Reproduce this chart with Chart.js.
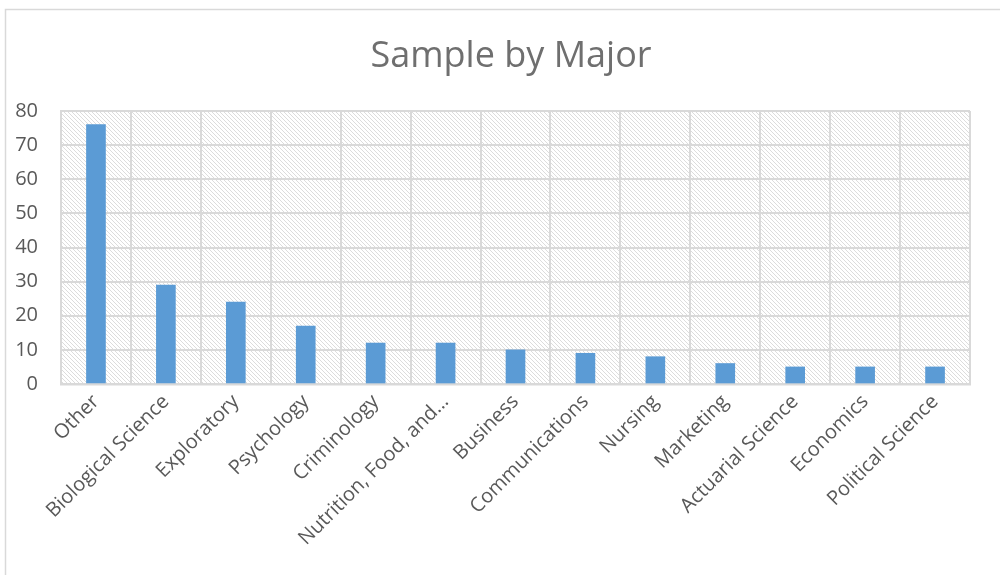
<!DOCTYPE html>
<html>
<head>
<meta charset="utf-8">
<script src="https://cdn.jsdelivr.net/npm/chart.js@4"></script>
<style>
  html, body { margin: 0; padding: 0; background: #fff; }
  #wrap { width: 1000px; height: 575px; }
</style>
</head>
<body>
<div id="wrap"><canvas id="majorChart" width="1000" height="575"></canvas></div>
<script>
  // data
  var chartTitle = "Sample by Major";
  var majors = ["Other", "Biological Science", "Exploratory", "Psychology", "Criminology",
    "Nutrition, Food, and\u2026", "Business", "Communications", "Nursing", "Marketing",
    "Actuarial Science", "Economics", "Political Science"];
  var counts = [76, 29, 24, 17, 12, 12, 10, 9, 8, 6, 5, 5, 5];
  var yTicks = [0, 10, 20, 30, 40, 50, 60, 70, 80];

  var gridColor = "#d9d9d9";
  var textColor = "#595959";
  var fontName = "Open Sans";

  // diagonal hatch behind the bars
  function makeHatch(ctx) {
    var c = document.createElement("canvas");
    c.width = 4; c.height = 4;
    var p = c.getContext("2d");
    p.fillStyle = "#fff";
    p.fillRect(0, 0, 4, 4);
    p.strokeStyle = "#d8d8d8";
    p.lineWidth = 0.9;
    p.beginPath();
    p.moveTo(-1, -1); p.lineTo(5, 5);
    p.moveTo(-3, 1); p.lineTo(1, 5);
    p.moveTo(3, -1); p.lineTo(5, 1);
    p.stroke();
    return ctx.createPattern(c, "repeat");
  }

  var framePlugin = {
    id: "frame",
    beforeDraw: function(chart) {
      var ctx = chart.ctx, a = chart.chartArea;
      ctx.save();
      ctx.strokeStyle = gridColor;
      ctx.lineWidth = 1.5;
      ctx.strokeRect(5.5, 9.5, chart.width + 10, chart.height + 10);
      ctx.fillStyle = makeHatch(ctx);
      ctx.fillRect(a.left, a.top, a.right - a.left, a.bottom - a.top);
      ctx.restore();
    },
    afterDraw: function(chart) {
      var ctx = chart.ctx;
      ctx.save();
      ctx.fillStyle = "#6f6f6f";
      ctx.font = "36px '" + fontName + "'";
      ctx.textAlign = "center";
      ctx.textBaseline = "middle";
      ctx.fillText(chartTitle, 511, 57);
      ctx.restore();
    }
  };

  var ctx = document.getElementById("majorChart").getContext("2d");
  new Chart(ctx, {
    type: "bar",
    data: {
      labels: majors,
      datasets: [{
        label: "Count",
        data: counts,
        backgroundColor: "#5b9bd5",
        barThickness: 19,
        categoryPercentage: 1
      }]
    },
    options: {
      responsive: false,
      animation: false,
      devicePixelRatio: 1,
      layout: { padding: { left: 0, right: 30, top: 111, bottom: 0 } },
      plugins: {
        legend: { display: false },
        tooltip: { enabled: false },
        title: { display: false }
      },
      scales: {
        x: {
          afterFit: function(axis) { axis.height = 191; },
          grid: { color: gridColor, lineWidth: 2, drawTicks: false, offset: true },
          border: { color: gridColor, width: 2.5 },
          ticks: {
            color: textColor,
            font: { family: fontName, size: 20 },
            maxRotation: 45, minRotation: 45,
            padding: 6,
            autoSkip: false
          }
        },
        y: {
          min: 0, max: 80,
          afterBuildTicks: function(axis) {
            axis.ticks = yTicks.map(function(v) { return { value: v }; });
          },
          afterFit: function(axis) { axis.width = 61; },
          grid: { color: gridColor, lineWidth: 2, drawTicks: false },
          border: { color: gridColor, width: 2 },
          ticks: {
            color: textColor,
            font: { family: fontName, size: 20 },
            padding: 23
          }
        }
      }
    },
    plugins: [framePlugin]
  });
</script>
</body>
</html>
